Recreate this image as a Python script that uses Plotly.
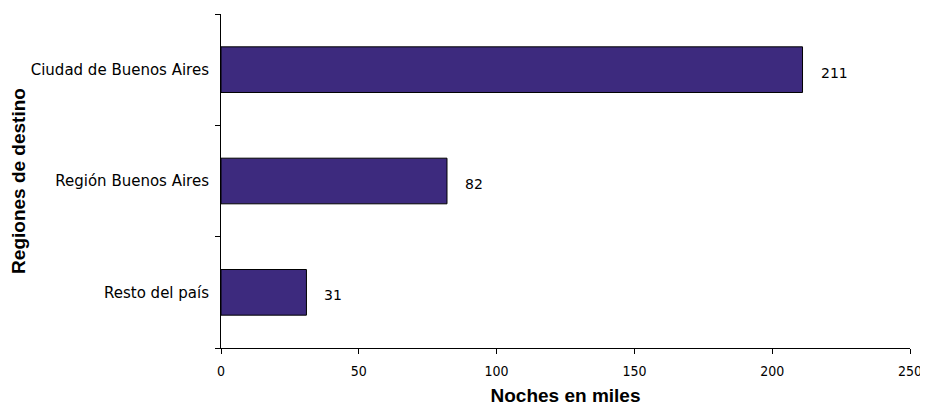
import plotly.graph_objects as go

categories = ["Resto del país", "Región Buenos Aires", "Ciudad de Buenos Aires"]
values = [31, 82, 211]
x_ticks = [0, 50, 100, 150, 200, 250]

fig = go.Figure()
fig.add_trace(go.Bar(
    x=values, y=categories, orientation="h",
    marker=dict(color="#3D2A7E", line=dict(color="#000000", width=1)),
    width=0.41,
    hoverinfo="skip",
))
for v, c in zip(values, categories):
    fig.add_annotation(x=v, y=c, text=str(v), showarrow=False,
                       xanchor="left", xshift=16, yshift=-3,
                       font=dict(family="DejaVu Sans", size=14, color="#000000"))

fig.update_layout(
    width=920, height=399,
    margin=dict(l=213, r=18, t=6, b=59),
    paper_bgcolor="white", plot_bgcolor="white",
    showlegend=False,
    font=dict(family="DejaVu Sans", size=15, color="#000000"),
    xaxis=dict(
        range=[0, 250], tickvals=x_ticks, ticks="outside", ticklen=5,
        tickcolor="#000000", showline=True, linecolor="#000000", linewidth=1,
        showgrid=False, zeroline=False, automargin=False, ticklabelstandoff=5,
        tickfont=dict(family="DejaVu Sans Condensed", size=14),
        title=dict(text="<b>Noches en miles</b>", standoff=10,
                   font=dict(family="Liberation Sans", size=19)),
    ),
    yaxis=dict(
        type="category", tickson="boundaries", ticks="outside", ticklen=5,
        tickcolor="#000000", showline=True, linecolor="#000000", linewidth=1,
        showgrid=False, zeroline=False, ticklabelstandoff=8, automargin=False,
        title=dict(text="<b>Regiones de destino</b>", standoff=12,
                   font=dict(family="Liberation Sans", size=19)),
    ),
)
fig.write_html("out.html")
